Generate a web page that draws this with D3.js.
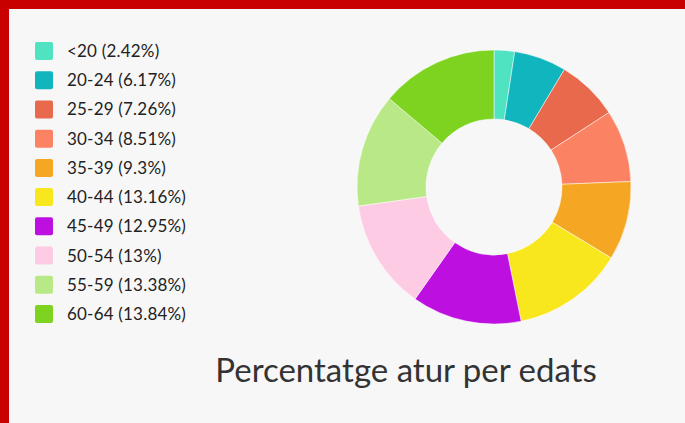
<!DOCTYPE html>
<html><head><meta charset="utf-8">
<script src="https://cdn.jsdelivr.net/npm/d3@7"></script>
<style>
html,body{margin:0;padding:0;background:#f7f7f7;}
svg{display:block;}
</style></head>
<body>
<svg id="chart" width="685" height="423"></svg>
<script>
const categories = ["<20","20-24","25-29","30-34","35-39","40-44","45-49","50-54","55-59","60-64"];
const values = [2.42, 6.17, 7.26, 8.51, 9.3, 13.16, 12.95, 13, 13.38, 13.84];
const colors = ["#50e3c2","#10b5bd","#e8694b","#fc8264","#f5a623","#f8e71c","#bd10e0","#fecbe5","#b8e986","#7ed321"];
const title = "Percentatge atur per edats";

const data = categories.map((c,i)=>({cat:c, value:values[i], color:colors[i]}));
const svg = d3.select("#chart");
const W = 685, H = 423;

svg.append("rect").attr("width",W).attr("height",H).attr("fill","#f7f7f7");
svg.append("rect").attr("x",0).attr("y",0).attr("width",W).attr("height",9).attr("fill","#c90000");
svg.append("rect").attr("x",0).attr("y",0).attr("width",9).attr("height",H).attr("fill","#c90000");

const cx = 494, cy = 187, outerR = 137, innerR = 68;
const pie = d3.pie().value(d=>d.value).sort(null);
const arc = d3.arc().innerRadius(innerR).outerRadius(outerR);
svg.append("g").attr("transform",`translate(${cx},${cy})`)
  .selectAll("path").data(pie(data)).join("path")
  .attr("d",arc).attr("fill",d=>d.data.color)
  .attr("stroke","#ffffff").attr("stroke-width",0.5);

const legY = d3.scalePoint().domain(categories).range([51, 314]);
const leg = svg.append("g").selectAll("g").data(data).join("g")
  .attr("transform",d=>`translate(35,${legY(d.cat)})`);
leg.append("rect").attr("x",0).attr("y",-9).attr("width",18).attr("height",18).attr("rx",2)
  .attr("fill",d=>d.color);
leg.append("text").attr("x",32).attr("y",0).attr("dy","0.35em")
  .attr("font-family","Lato, sans-serif").attr("font-size",17).attr("fill","#222")
  .attr("letter-spacing",0.2)
  .text(d=>`${d.cat} (${d.value}%)`);

svg.append("text").attr("x",406).attr("y",382).attr("text-anchor","middle")
  .attr("font-family","Lato, sans-serif").attr("font-size",33).attr("fill","#333")
  .text(title);
</script>
</body></html>
